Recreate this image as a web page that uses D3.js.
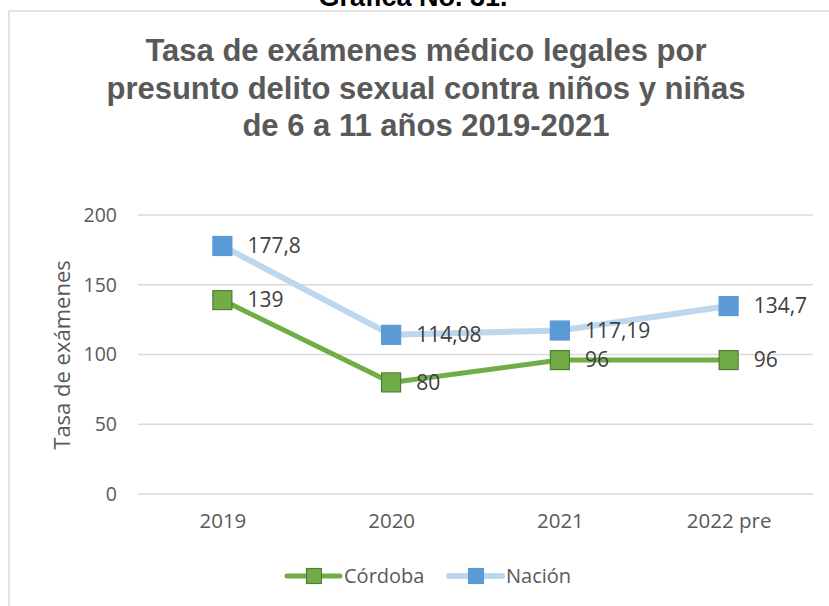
<!DOCTYPE html>
<html>
<head>
<meta charset="utf-8">
<script src="https://cdn.jsdelivr.net/npm/d3@7"></script>
<style>
  body { margin: 0; background: #fff; }
  text { font-family: "Open Sans", sans-serif; }
</style>
</head>
<body>
<div id="chart"></div>
<script>
// Data
const categories = ["2019", "2020", "2021", "2022 pre"];
const cordoba = [139, 80, 96, 96];
const nacion = [177.8, 114.08, 117.19, 134.7];
const cordobaLabels = ["139", "80", "96", "96"];
const nacionLabels = ["177,8", "114,08", "117,19", "134,7"];
const yTicks = [0, 50, 100, 150, 200];
const titleLines = [
    "Tasa de exámenes médico legales por",
    "presunto delito sexual contra niños y niñas",
    "de 6 a 11 años 2019-2021"
];

const width = 829;
const height = 606;

const svg = d3.select("#chart")
    .append("svg")
    .attr("width", width)
    .attr("height", height);

// chart area frame
svg.append("rect")
    .attr("x", 9)
    .attr("y", 11)
    .attr("width", 840)
    .attr("height", 620)
    .attr("fill", "#fff")
    .attr("stroke", "#d9d9d9")
    .attr("stroke-width", 1.5);

// caption above the chart (cut off at the top)
svg.append("text")
    .attr("x", 413)
    .attr("y", 6)
    .attr("text-anchor", "middle")
    .style("font-family", "'Liberation Sans', Arial, sans-serif")
    .style("font-weight", "bold")
    .style("font-size", "27px")
    .attr("fill", "#000")
    .text("Gráfica No. 31.");

// title
svg.append("g")
    .selectAll("text")
    .data(titleLines)
    .enter()
    .append("text")
    .attr("x", 426)
    .attr("y", (d, i) => 61 + i * 37.5)
    .attr("text-anchor", "middle")
    .style("font-family", "'Liberation Sans', Arial, sans-serif")
    .style("font-weight", "bold")
    .style("font-size", "31px")
    .attr("fill", "#595959")
    .text(d => d);

// scales
const x = d3.scalePoint()
    .domain(categories)
    .range([138, 813])
    .padding(0.5);

const y = d3.scaleLinear()
    .domain([0, 200])
    .range([494, 215]);

// gridlines
svg.append("g")
    .selectAll("line")
    .data(yTicks)
    .enter()
    .append("line")
    .attr("x1", 138)
    .attr("x2", 813)
    .attr("y1", d => y(d))
    .attr("y2", d => y(d))
    .attr("stroke", "#d9d9d9")
    .attr("stroke-width", 1.3);

// y axis labels
const yAxis = svg.append("g")
    .attr("transform", "translate(125,0)")
    .call(d3.axisLeft(y).tickValues(yTicks).tickSize(0).tickPadding(8));
yAxis.select(".domain").remove();
yAxis.selectAll("text")
    .style("font-size", "19.5px")
    .style("font-family", "'Open Sans', sans-serif")
    .attr("fill", "#595959");

// x axis labels
const xAxis = svg.append("g")
    .attr("transform", "translate(0,505)")
    .call(d3.axisBottom(x).tickSize(0).tickPadding(8));
xAxis.select(".domain").remove();
xAxis.selectAll("text")
    .style("font-size", "20.5px")
    .style("font-family", "'Open Sans', sans-serif")
    .attr("fill", "#595959");

// axis title
svg.append("text")
    .attr("transform", "translate(70,355) rotate(-90)")
    .attr("text-anchor", "middle")
    .style("font-size", "22px")
    .attr("fill", "#595959")
    .text("Tasa de exámenes");

const series = [
    { name: "Nación", values: nacion, labels: nacionLabels, line: "#bdd7ee", lineWidth: 6, fill: "#5b9bd5", stroke: "#5b9bd5" },
    { name: "Córdoba", values: cordoba, labels: cordobaLabels, line: "#70ad47", lineWidth: 5, fill: "#70ad47", stroke: "#507e32" }
];

const line = d3.line()
    .x((d, i) => x(categories[i]))
    .y(d => y(d));

const ms = 19;

series.forEach(s => {
    const g = svg.append("g");
    g.append("path")
        .datum(s.values)
        .attr("d", line)
        .attr("fill", "none")
        .attr("stroke", s.line)
        .attr("stroke-width", s.lineWidth)
        .attr("stroke-linejoin", "round");

    g.selectAll("rect")
        .data(s.values)
        .enter()
        .append("rect")
        .attr("x", (d, i) => x(categories[i]) - ms / 2)
        .attr("y", d => y(d) - ms / 2)
        .attr("width", ms)
        .attr("height", ms)
        .attr("fill", s.fill)
        .attr("stroke", s.stroke)
        .attr("stroke-width", 1.2);
});

// data labels on top
series.forEach(s => {
    svg.append("g")
        .selectAll("text")
        .data(s.values)
        .enter()
        .append("text")
        .attr("x", (d, i) => x(categories[i]) + 25)
        .attr("y", d => y(d))
        .attr("dy", "0.35em")
        .style("font-size", "21px")
        .attr("fill", "#404040")
        .text((d, i) => s.labels[i]);
});

// legend
const legendItems = [
    { name: "Córdoba", line: "#70ad47", lineWidth: 5, fill: "#70ad47", stroke: "#507e32", x: 287 },
    { name: "Nación", line: "#bdd7ee", lineWidth: 6, fill: "#5b9bd5", stroke: "#5b9bd5", x: 449 }
];
const legend = svg.append("g");
legendItems.forEach(it => {
    const ly = 576;
    legend.append("line")
        .attr("x1", it.x)
        .attr("x2", it.x + 53)
        .attr("y1", ly)
        .attr("y2", ly)
        .attr("stroke", it.line)
        .attr("stroke-width", it.lineWidth)
        .attr("stroke-linecap", "round");
    legend.append("rect")
        .attr("x", it.x + 27 - 7.5)
        .attr("y", ly - 7.5)
        .attr("width", 15)
        .attr("height", 15)
        .attr("fill", it.fill)
        .attr("stroke", it.stroke)
        .attr("stroke-width", 1.2);
    legend.append("text")
        .attr("x", it.x + 57)
        .attr("y", ly)
        .attr("dy", "0.35em")
        .style("font-size", "20px")
        .attr("fill", "#595959")
        .text(it.name);
});
</script>
</body>
</html>
